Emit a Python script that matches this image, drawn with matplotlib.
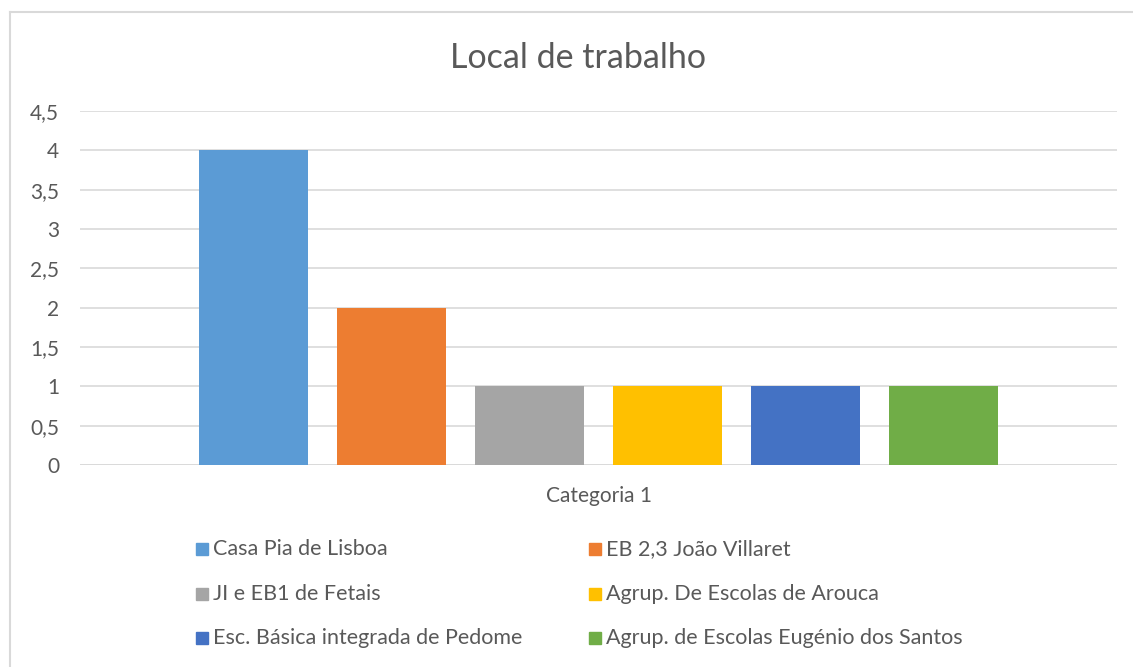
import matplotlib
matplotlib.use("Agg")
import matplotlib.pyplot as plt
from matplotlib.patches import Rectangle
from matplotlib.lines import Line2D

title = "Local de trabalho"
category = "Categoria 1"
series = ["Casa Pia de Lisboa", "EB 2,3 João Villaret", "JI e EB1 de Fetais",
          "Agrup. De Escolas de Arouca", "Esc. Básica integrada de Pedome",
          "Agrup. de Escolas Eugénio dos Santos"]
values = [4, 2, 1, 1, 1, 1]
colors = ["#5B9BD5", "#ED7D31", "#A5A5A5", "#FFC000", "#4472C4", "#70AD47"]
yticks = [0, 0.5, 1, 1.5, 2, 2.5, 3, 3.5, 4, 4.5]
ytick_labels = ["0", "0,5", "1", "1,5", "2", "2,5", "3", "3,5", "4", "4,5"]

plt.rcParams['font.family'] = ['Lato', 'DejaVu Sans']
W, H = 1133, 667
fig = plt.figure(figsize=(W/100, H/100), dpi=100)
ax = fig.add_axes([80/W, 1-465/H, (1117-80)/W, (465-111)/H])

step = 138.0
bw = 109/step
for i, (v, c) in enumerate(zip(values, colors)):
    ax.bar(i, v, width=bw, color=c, zorder=3)
ax.set_xlim(-173.5/step, 5 + 173.5/step)
ax.set_ylim(0, 4.5)
ax.set_yticks(yticks)
ax.set_yticklabels(ytick_labels)
ax.yaxis.grid(True, color="#D9D9D9", linewidth=1.2, zorder=0)
for s in ax.spines.values():
    s.set_visible(False)
ax.tick_params(axis='y', length=0, pad=15, labelsize=15, labelcolor="#595959")
ax.set_xticks([2.5])
ax.set_xticklabels([category])
ax.tick_params(axis='x', length=0, pad=15, labelsize=15, labelcolor="#595959")
ax.axhline(0, color="#D9D9D9", linewidth=1.2, zorder=2)

fig.text(578/W, 1-58/H, title, ha='center', va='center', fontsize=24.5, color="#595959")

# legend
rows = [549, 594, 638]
cols = [202, 595]
for k, (name, c) in enumerate(zip(series, colors)):
    r, cc = k // 2, k % 2
    x0 = cols[cc]; y0 = rows[r]
    fig.patches.append(Rectangle(((x0-6)/W, 1-(y0+6)/H), 12/W, 12/H,
                       transform=fig.transFigure, color=c, figure=fig))
    fig.text((x0+11)/W, 1-y0/H, name, ha='left', va='center', fontsize=15.5, color="#595959")

# border
fig.add_artist(Line2D([10/W, 1], [1-12/H, 1-12/H], transform=fig.transFigure, color="#D9D9D9", linewidth=1.5))
fig.add_artist(Line2D([10/W, 10/W], [0, 1-12/H], transform=fig.transFigure, color="#D9D9D9", linewidth=1.5))

fig.savefig("out.png", dpi=100)
